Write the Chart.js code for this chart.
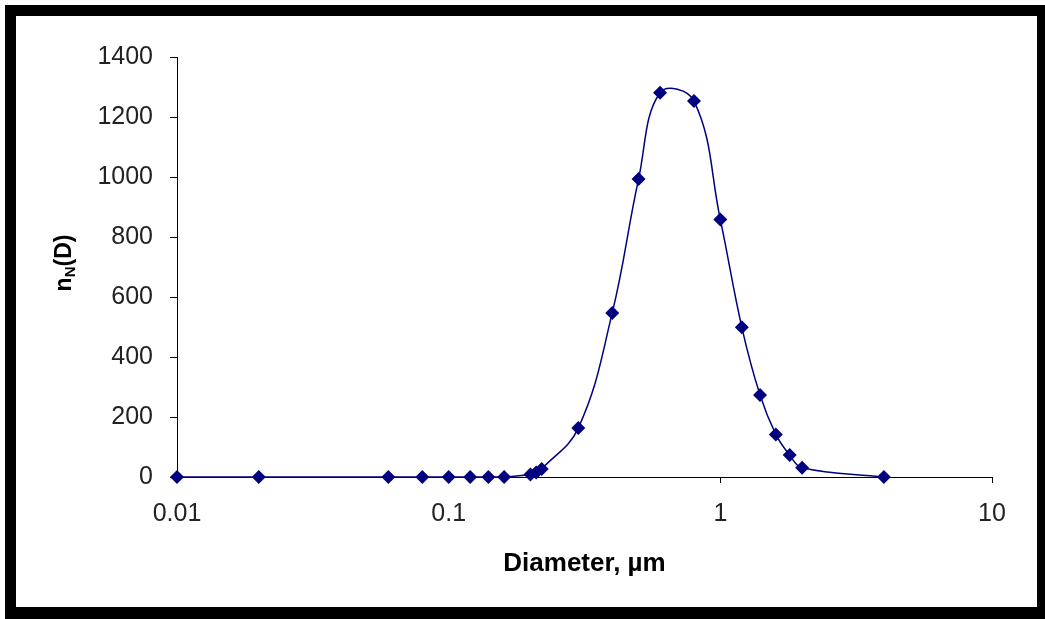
<!DOCTYPE html>
<html>
<head>
<meta charset="utf-8">
<script src="https://cdn.jsdelivr.net/npm/chart.js@4/dist/chart.umd.min.js"></script>
<style>
  html, body { margin: 0; padding: 0; background: #fff; }
  #frame {
    position: absolute; left: 5px; top: 5px; width: 1040px; height: 614px;
    box-sizing: border-box; border-style: solid; border-color: #000;
    border-width: 11px 8px 12px 11px; background: #fff;
  }
  #myChart { position: absolute; left: 16px; top: 16px; }
</style>
</head>
<body>
<div id="frame"></div>
<canvas id="myChart" width="1021" height="591"></canvas>
<script>
// particle size distribution
const diameters = [0.01, 0.02, 0.06, 0.08, 0.1, 0.12, 0.14, 0.16, 0.2, 0.21, 0.22, 0.3, 0.4, 0.5, 0.6, 0.8, 1.0, 1.2, 1.4, 1.6, 1.8, 2.0, 4.0];
const counts = [0, 0, 0, 0, 0, 0, 0, 0, 8, 15, 27, 163, 547, 993, 1281, 1253, 858, 499, 273, 142, 73, 31, 0];
const x_ticks = [0.01, 0.1, 1, 10];
const y_max = 1400;
const y_step = 200;

const navy = '#000080';
const tick_font = { family: 'Arial, "Liberation Sans", sans-serif', size: 25 };

let points = diameters.map(function (d, i) { return { x: d, y: counts[i] } });

// y title with subscript N
const yTitle = {
    id: 'yTitle',
    afterDraw(chart) {
        const ctx = chart.ctx;
        const big = 'bold 23px Arial, "Liberation Sans", sans-serif';
        const small = 'bold 15px Arial, "Liberation Sans", sans-serif';
        ctx.save();
        ctx.font = big; let w1 = ctx.measureText('n').width; let w3 = ctx.measureText('(D)').width;
        ctx.font = small; let w2 = ctx.measureText('N').width;
        let total = w1 + w2 + w3;
        ctx.translate(chart.chartArea.left - 112, (chart.chartArea.top + chart.chartArea.bottom) / 2 - 4);
        ctx.rotate(-Math.PI / 2);
        ctx.fillStyle = '#000';
        ctx.textBaseline = 'middle';
        ctx.textAlign = 'left';
        let x = -total / 2;
        ctx.font = big; ctx.fillText('n', x, 0); x += w1;
        ctx.font = small; ctx.fillText('N', x, 6); x += w2;
        ctx.font = big; ctx.fillText('(D)', x, 0);
        ctx.restore();
    }
};

new Chart("myChart", {
    type: "line",
    data: {
        datasets: [{
            data: points,
            borderColor: navy,
            borderWidth: 1.5,
            backgroundColor: navy,
            pointStyle: 'rectRot',
            pointRadius: 7,
            pointBorderWidth: 0,
            tension: 0.4,
            clip: false
        }]
    },
    options: {
        responsive: false,
        animation: false,
        devicePixelRatio: 1,
        layout: { padding: { left: 0, top: 41, right: 45, bottom: 0 } },
        scales: {
            x: {
                type: 'logarithmic',
                min: 0.01,
                max: 10,
                afterBuildTicks: function (scale) {
                    scale.ticks = x_ticks.map(function (v) { return { value: v } });
                },
                afterFit: function (scale) { scale.height = 130; },
                ticks: {
                    color: '#222',
                    font: tick_font,
                    padding: 16,
                    autoSkip: false,
                    maxRotation: 0,
                    callback: function (v) { return String(v); }
                },
                grid: { drawOnChartArea: false, drawTicks: true, tickLength: 6, color: '#000' },
                border: { color: '#000', width: 1 },
                title: {
                    display: true,
                    text: 'Diameter, µm',
                    color: '#000',
                    font: { family: 'Arial, "Liberation Sans", sans-serif', size: 26, weight: 'bold' },
                    padding: { top: 0, bottom: 28 }
                }
            },
            y: {
                min: 0,
                max: y_max,
                afterFit: function (scale) { scale.width = 161; },
                ticks: {
                    stepSize: y_step,
                    color: '#222',
                    font: tick_font,
                    padding: 17,
                    callback: function (v) { return String(v); }
                },
                grid: { drawOnChartArea: false, drawTicks: true, tickLength: 7, color: '#000' },
                border: { color: '#000', width: 1 }
            }
        },
        plugins: {
            legend: { display: false },
            tooltip: { enabled: false }
        }
    },
    plugins: [yTitle]
});
</script>
</body>
</html>
